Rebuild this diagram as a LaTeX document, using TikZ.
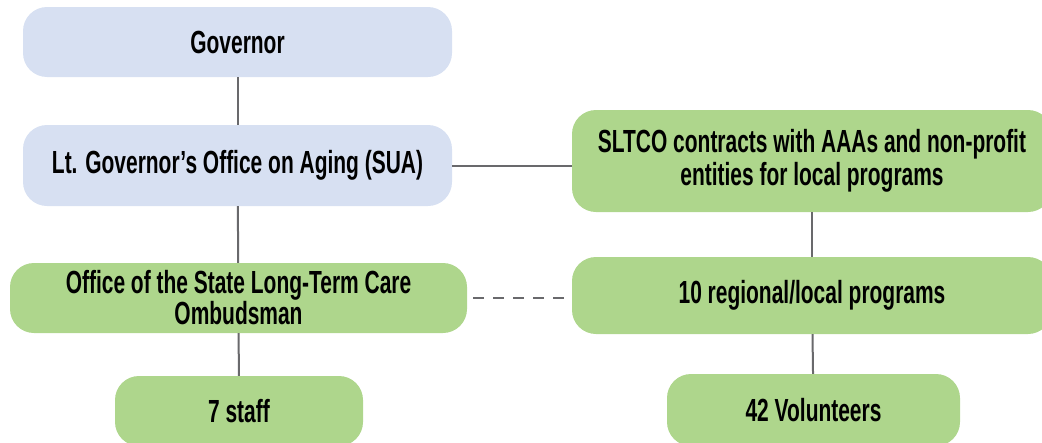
\documentclass[tikz,border=0pt]{standalone}
\usepackage{fontspec}
\setmainfont{Liberation Sans}[FakeStretch=0.655]
\usepackage{tikz}
\usetikzlibrary{positioning}
\definecolor{paleblue}{RGB}{215,224,242}
\definecolor{palegreen}{RGB}{174,214,140}
\definecolor{linkgray}{RGB}{105,105,108}

\begin{document}
\begin{tikzpicture}[x=1pt,y=-1pt, box/.style={rounded corners=24pt,align=center,inner sep=0pt,font=\fontsize{32}{33}\selectfont\bfseries}, bluebox/.style={box,fill=paleblue}, greenbox/.style={box,fill=palegreen}, link/.style={draw=linkgray,line width=2pt}]
\clip (0,0) rectangle (1042,442);
\node[bluebox,minimum width=429pt,minimum height=70pt] (gov) at (237.5,42) {Governor};
\node[bluebox,minimum width=429pt,minimum height=81pt] (sua) at (237.5,165.5) {Lt. Governor’s Office on Aging (SUA)};
\node[greenbox,minimum width=480pt,minimum height=102pt,text depth=8pt] (sltco) at (812,161) {SLTCO contracts with AAAs and non-profit\\entities for local programs};
\node[greenbox,minimum width=457pt,minimum height=70pt,font=\fontsize{32}{29}\selectfont\bfseries] (ombud) at (238.5,298) {Office of the State Long-Term Care\\Ombudsman};
\node[greenbox,minimum width=480pt,minimum height=77pt] (regional) at (812,295.5) {10 regional/local programs};
\node[greenbox,minimum width=248pt,minimum height=70pt] (staff) at (239,411) {7 staff};
\node[greenbox,minimum width=293pt,minimum height=72pt] (vols) at (813.5,410) {42 Volunteers};
\draw[link] (gov) -- (sua);
\draw[link] (sua.east) -- (sua.east -| sltco.west);
\draw[link] (sua) -- (ombud);
\draw[link] (ombud) -- (staff);
\draw[link] (sltco) -- (regional);
\draw[link] (regional) -- (vols);
\draw[link,dash pattern=on 11pt off 9pt] ([xshift=6pt]ombud.east) -- (ombud.east -| regional.west);
\end{tikzpicture}
\end{document}
